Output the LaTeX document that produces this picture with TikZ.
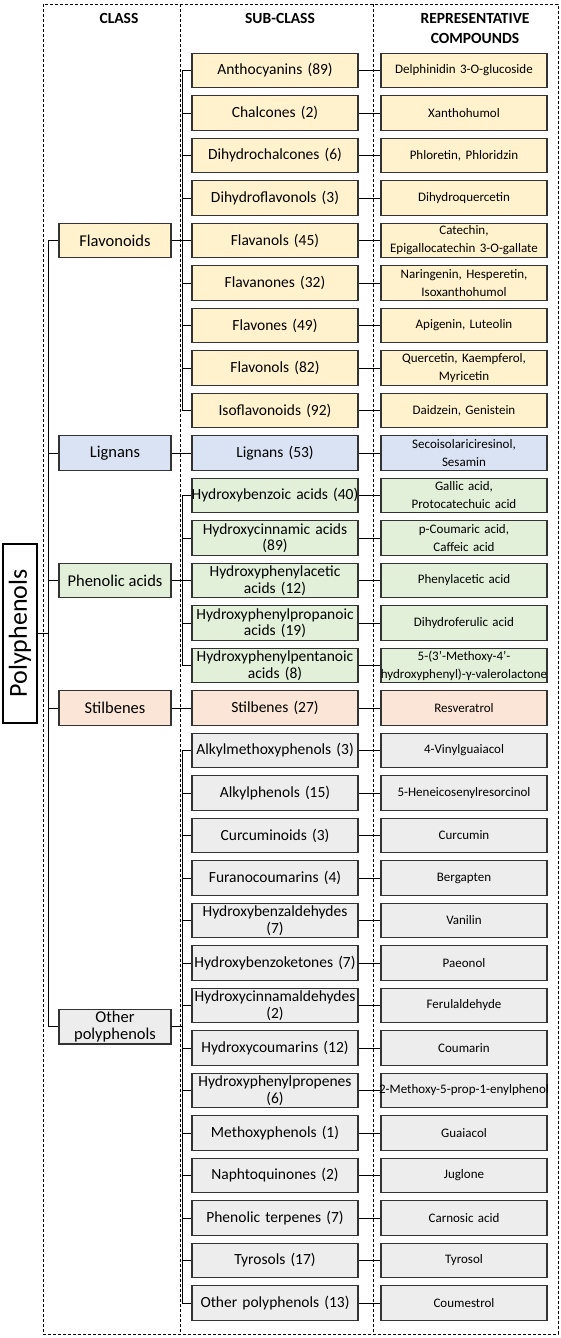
\documentclass[tikz,border=0pt]{standalone}
\usepackage{fontspec}
\setmainfont{Carlito}
\usepackage{graphicx}
\usepackage{tikz}

\definecolor{flavfill}{HTML}{FFF2CC}
\definecolor{ligfill}{HTML}{DAE3F3}
\definecolor{phenfill}{HTML}{E2F0D9}
\definecolor{stilfill}{HTML}{FBE5D6}
\definecolor{othfill}{HTML}{EDEDED}

% narrow word spaces, no breaks at hyphens
\newcommand{\tightsp}{\spaceskip=0.12em plus 0.04em minus 0.02em\relax
	\exhyphenpenalty=10000\relax\hyphenpenalty=10000\relax}
% a line that may run over the box on both sides
\newcommand{\spill}[1]{\hbox to\hsize{\hss#1\hss}}

\begin{document}
\begin{tikzpicture}[x=1pt, y=-1pt,
					box/.style={draw=black!80, line width=1.2pt, align=center,
						inner xsep=2pt, inner ysep=0.5pt, minimum height=34.5pt},
					cls/.style={box, minimum width=112pt, font=\fontsize{16.5}{17}\selectfont},
					sub/.style={box, text width=162pt, font=\fontsize{15.5}{16.5}\selectfont\tightsp},
					comp/.style={box, text width=162pt, font=\fontsize{13}{18}\selectfont\tightsp},
					head/.style={align=center, font=\bfseries\fontsize{15.5}{20}\selectfont},
					frame/.style={dash pattern=on 3pt off 2pt, line width=0.8pt},
					link/.style={line width=0.8pt}]

	\path[use as bounding box, fill=white] (0,0) rectangle (561,1338);

	% column frames
	\draw[frame] (43,4) rectangle (558,1334);
	\draw[frame] (180,4) -- (180,1334);
	\draw[frame] (373,4) -- (373,1334);

	\node[head] (hcls)  at (119,18) {CLASS};
	\node[head] (hsub)  at (280,18) {SUB-CLASS};
	\node[head] (hcomp) at (475,28) {REPRESENTATIVE\\COMPOUNDS};

	\node[box, draw=black, minimum width=34pt, minimum height=179pt, inner sep=0pt,
		font=\fontsize{26}{28}\selectfont] (poly) at (20,633.5) {\rotatebox{90}{Polyphenols}};

	% classes
	\node[cls, fill=flavfill] (flav) at (115,240.5)  {Flavonoids};
	\node[cls, fill=ligfill]  (lig)  at (115,453)    {Lignans};
	\node[cls, fill=phenfill] (phen) at (115,580.5)  {Phenolic acids};
	\node[cls, fill=stilfill] (stil) at (115,708)    {Stilbenes};
	\node[cls, fill=othfill]  (oth)  at (115,1026.75) {Other\\polyphenols};

	% sub-classes
	\node[sub, fill=flavfill] (s0)  at (275,70.5)   {Anthocyanins (89)};
	\node[sub, fill=flavfill] (s1)  at (275,113)    {Chalcones (2)};
	\node[sub, fill=flavfill] (s2)  at (275,155.5)  {Dihydrochalcones (6)};
	\node[sub, fill=flavfill] (s3)  at (275,198)    {Dihydroflavonols (3)};
	\node[sub, fill=flavfill] (s4)  at (275,240.5)  {Flavanols (45)};
	\node[sub, fill=flavfill] (s5)  at (275,283)    {Flavanones (32)};
	\node[sub, fill=flavfill] (s6)  at (275,325.5)  {Flavones (49)};
	\node[sub, fill=flavfill] (s7)  at (275,368)    {Flavonols (82)};
	\node[sub, fill=flavfill] (s8)  at (275,410.5)  {Isoflavonoids (92)};
	\node[sub, fill=ligfill]  (s9)  at (275,453)    {Lignans (53)};
	\node[sub, fill=phenfill] (s10) at (275,495.5)  {\spill{Hydroxybenzoic acids (40)}};
	\node[sub, fill=phenfill] (s11) at (275,538)    {Hydroxycinnamic acids\\(89)};
	\node[sub, fill=phenfill] (s12) at (275,580.5)  {Hydroxyphenylacetic\\acids (12)};
	\node[sub, fill=phenfill] (s13) at (275,623)    {Hydroxyphenylpropanoic\\acids (19)};
	\node[sub, fill=phenfill] (s14) at (275,665.5)  {Hydroxyphenylpentanoic\\acids (8)};
	\node[sub, fill=stilfill] (s15) at (275,708)    {Stilbenes (27)};
	\node[sub, fill=othfill]  (s16) at (275,750.5)  {Alkylmethoxyphenols (3)};
	\node[sub, fill=othfill]  (s17) at (275,793)    {Alkylphenols (15)};
	\node[sub, fill=othfill]  (s18) at (275,835.5)  {Curcuminoids (3)};
	\node[sub, fill=othfill]  (s19) at (275,878)    {Furanocoumarins (4)};
	\node[sub, fill=othfill]  (s20) at (275,920.5)  {Hydroxybenzaldehydes\\(7)};
	\node[sub, fill=othfill]  (s21) at (275,963)    {Hydroxybenzoketones (7)};
	\node[sub, fill=othfill]  (s22) at (275,1005.5) {\spill{Hydroxycinnamaldehydes}\\(2)};
	\node[sub, fill=othfill]  (s23) at (275,1048)   {Hydroxycoumarins (12)};
	\node[sub, fill=othfill]  (s24) at (275,1090.5) {Hydroxyphenylpropenes\\(6)};
	\node[sub, fill=othfill]  (s25) at (275,1133)   {Methoxyphenols (1)};
	\node[sub, fill=othfill]  (s26) at (275,1175.5) {Naphtoquinones (2)};
	\node[sub, fill=othfill]  (s27) at (275,1218)   {Phenolic terpenes (7)};
	\node[sub, fill=othfill]  (s28) at (275,1260.5) {Tyrosols (17)};
	\node[sub, fill=othfill]  (s29) at (275,1303)   {Other polyphenols (13)};

	% representative compounds
	\node[comp, fill=flavfill] (c0)  at (464,70.5)   {Delphinidin 3-O-glucoside};
	\node[comp, fill=flavfill] (c1)  at (464,113)    {Xanthohumol};
	\node[comp, fill=flavfill] (c2)  at (464,155.5)  {Phloretin, Phloridzin};
	\node[comp, fill=flavfill] (c3)  at (464,198)    {Dihydroquercetin};
	\node[comp, fill=flavfill] (c4)  at (464,240.5)  {Catechin,\\Epigallocatechin 3-O-gallate};
	\node[comp, fill=flavfill] (c5)  at (464,283)    {Naringenin, Hesperetin,\\Isoxanthohumol};
	\node[comp, fill=flavfill] (c6)  at (464,325.5)  {Apigenin, Luteolin};
	\node[comp, fill=flavfill] (c7)  at (464,368)    {Quercetin, Kaempferol,\\Myricetin};
	\node[comp, fill=flavfill] (c8)  at (464,410.5)  {Daidzein, Genistein};
	\node[comp, fill=ligfill]  (c9)  at (464,453)    {Secoisolariciresinol,\\Sesamin};
	\node[comp, fill=phenfill] (c10) at (464,495.5)  {Gallic acid,\\Protocatechuic acid};
	\node[comp, fill=phenfill] (c11) at (464,538)    {p-Coumaric acid,\\Caffeic acid};
	\node[comp, fill=phenfill] (c12) at (464,580.5)  {Phenylacetic acid};
	\node[comp, fill=phenfill] (c13) at (464,623)    {Dihydroferulic acid};
	\node[comp, fill=phenfill] (c14) at (464,665.5)  {5-(3'-Methoxy-4'-\\\spill{hydroxyphenyl)-γ-valerolactone}};
	\node[comp, fill=stilfill] (c15) at (464,708)    {Resveratrol};
	\node[comp, fill=othfill]  (c16) at (464,750.5)  {4-Vinylguaiacol};
	\node[comp, fill=othfill]  (c17) at (464,793)    {5-Heneicosenylresorcinol};
	\node[comp, fill=othfill]  (c18) at (464,835.5)  {Curcumin};
	\node[comp, fill=othfill]  (c19) at (464,878)    {Bergapten};
	\node[comp, fill=othfill]  (c20) at (464,920.5)  {Vanilin};
	\node[comp, fill=othfill]  (c21) at (464,963)    {Paeonol};
	\node[comp, fill=othfill]  (c22) at (464,1005.5) {Ferulaldehyde};
	\node[comp, fill=othfill]  (c23) at (464,1048)   {Coumarin};
	\node[comp, fill=othfill]  (c24) at (464,1090.5) {\spill{2-Methoxy-5-prop-1-enylphenol}};
	\node[comp, fill=othfill]  (c25) at (464,1133)   {Guaiacol};
	\node[comp, fill=othfill]  (c26) at (464,1175.5) {Juglone};
	\node[comp, fill=othfill]  (c27) at (464,1218)   {Carnosic acid};
	\node[comp, fill=othfill]  (c28) at (464,1260.5) {Tyrosol};
	\node[comp, fill=othfill]  (c29) at (464,1303)   {Coumestrol};

	% connectors
	\foreach \c in {flav,lig,phen,stil,oth}
		\draw[link] (poly.east) -- ++(11,0) |- (\c.west);
	\foreach \n in {0,...,8}
		\draw[link] (flav.east) -- ++(11,0) |- (s\n.west);
	\draw[link] (lig) -- (s9);
	\foreach \n in {10,...,14}
		\draw[link] (phen.east) -- ++(11,0) |- (s\n.west);
	\draw[link] (stil) -- (s15);
	\foreach \n in {16,...,29}
		\draw[link] (oth.east) -- ++(11,0) |- (s\n.west);
	\foreach \n in {0,...,29}
		\draw[link] (s\n) -- (c\n);
\end{tikzpicture}
\end{document}
